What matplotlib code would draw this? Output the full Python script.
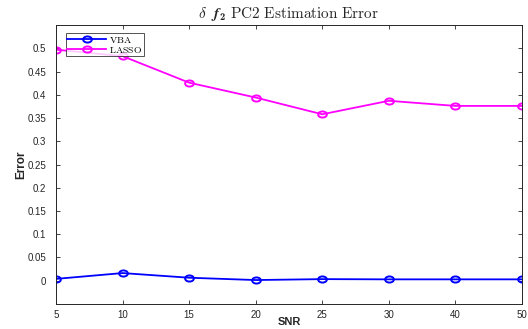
import matplotlib
matplotlib.use("Agg")
import matplotlib.pyplot as plt
from matplotlib.path import Path
from matplotlib.transforms import Affine2D
import numpy as np

snr_labels = ["5", "10", "15", "20", "25", "30", "40", "50"]
vba_error = [0.004, 0.0165, 0.0065, 0.0015, 0.0035, 0.003, 0.003, 0.003]
lasso_error = [0.497, 0.483, 0.426, 0.394, 0.358, 0.387, 0.376, 0.376]
y_ticks = [0, 0.05, 0.1, 0.15, 0.2, 0.25, 0.3, 0.35, 0.4, 0.45, 0.5]
y_tick_labels = ["0", "0.05", "0.1", "0.15", "0.2", "0.25", "0.3", "0.35", "0.4", "0.45", "0.5"]

plt.rcParams["mathtext.fontset"] = "custom"
plt.rcParams["mathtext.rm"] = "cmr10"
plt.rcParams["mathtext.bf"] = "cmb10"
plt.rcParams["mathtext.it"] = "cmmi10"
plt.rcParams["mathtext.bfit"] = "STIXGeneral:italic:bold"
plt.rcParams["mathtext.fallback"] = "cm"
plt.rcParams["font.family"] = ["Liberation Sans", "DejaVu Sans"]

axis_color = "#262626"

# slightly flattened circle marker
ellipse = Path.unit_circle().transformed(Affine2D().scale(1.0, 0.7))

fig = plt.figure(figsize=(5.28, 3.29), dpi=100)
ax = fig.add_axes([0.106, 0.076, 0.8826, 0.848])

x = np.arange(len(snr_labels))
ax.plot(x, vba_error, color="blue", lw=1.3, marker=ellipse, ms=6.3, mfc="none",
        mew=1.4, label=r"$\mathrm{VBA}$")
ax.plot(x, lasso_error, color="magenta", lw=1.3, marker=ellipse, ms=6.3, mfc="none",
        mew=1.4, label=r"$\mathrm{LASSO}$")

ax.set_xlim(0, len(snr_labels) - 1)
ax.set_ylim(-0.05, 0.55)
ax.set_xticks(x)
ax.set_xticklabels(snr_labels)
ax.set_yticks(y_ticks)
ax.set_yticklabels(y_tick_labels)

ax.tick_params(direction="in", length=3, width=0.6, labelsize=7,
               colors=axis_color, top=True, right=True)
ax.tick_params(axis="y", pad=7)
ax.tick_params(axis="x", pad=4)
for sp in ax.spines.values():
    sp.set_color(axis_color)
    sp.set_linewidth(0.7)

ax.set_xlabel("SNR", fontsize=8, fontweight="bold", color=axis_color, labelpad=-1.5)
ax.set_ylabel("Error", fontsize=8.5, fontweight="bold", color=axis_color, labelpad=0)
ax.set_title(r"$\delta\ \ \mathbfit{f}_{\mathbf{2}}\ \mathrm{PC2\ Estimation\ Error}$",
             fontsize=11, color=axis_color, pad=5)

leg = ax.legend(loc="upper left", bbox_to_anchor=(0.021, 0.971), borderaxespad=0,
                fontsize=7, frameon=True, fancybox=False, edgecolor=axis_color,
                handlelength=4.0, handletextpad=0.3, borderpad=0.15,
                labelspacing=0.0)
leg.get_frame().set_linewidth(0.7)

fig.savefig("out.png", dpi=100)
